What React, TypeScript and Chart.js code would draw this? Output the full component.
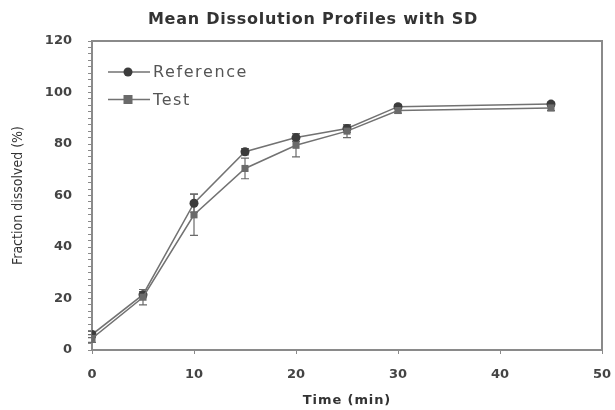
import React, { useEffect, useRef } from "react";
import { Chart, registerables } from "chart.js";

Chart.register(...registerables);

const chartTitle = "Mean Dissolution Profiles with SD";
const xTitle = "Time (min)";
const yTitle = "Fraction dissolved (%)";
const seriesNames = ["Reference", "Test"];

const times = [0, 5, 10, 15, 20, 25, 30, 45];
const refMean = [6, 21.5, 57, 77, 82.5, 86, 94.5, 95.5];
const refSD = [1.2, 1.2, 3.5, 1.2, 1.5, 1.5, 0.8, 0.8];
const testMean = [4.5, 20.5, 52.5, 70.5, 79.5, 85, 93, 94];
const testSD = [1.5, 3, 8, 4, 4.5, 2.5, 1, 1];

const xMin = 0;
const xMax = 50;
const xStep = 10;
const yMin = 0;
const yMax = 120;
const yMajor = 20;
const yMinor = 2.5;

const AXIS = "#8a8a8a";
const TEXT = "#444";
const LINE = "#727272";

const means = [refMean, testMean];
const sds = [refSD, testSD];
const markerColors = ["#3c3c3c", "#6a6a6a"];
const markerStyles = ["circle", "rect"];

const errorBarPlugin = {
  id: "errorBars",
  beforeDatasetsDraw(chart: any) {
    const { ctx, scales } = chart;
    const xs = scales.x;
    const ys = scales.y;
    ctx.save();
    ctx.strokeStyle = "#6a6a6a";
    ctx.lineWidth = 1.2;
    means.forEach((m, si) => {
      m.forEach((v, i) => {
        const px = xs.getPixelForValue(times[i]);
        const top = ys.getPixelForValue(v + sds[si][i]);
        const bot = ys.getPixelForValue(v - sds[si][i]);
        ctx.beginPath();
        ctx.moveTo(px, top);
        ctx.lineTo(px, bot);
        ctx.moveTo(px - 4, top);
        ctx.lineTo(px + 4, top);
        ctx.moveTo(px - 4, bot);
        ctx.lineTo(px + 4, bot);
        ctx.stroke();
      });
    });
    ctx.restore();
  },
};

const decorPlugin = {
  id: "decor",
  afterDraw(chart: any) {
    const { ctx, chartArea } = chart;
    const { left, right, top, bottom } = chartArea;
    ctx.save();
    // frame top & right
    ctx.strokeStyle = AXIS;
    ctx.lineWidth = 2;
    ctx.beginPath();
    ctx.moveTo(left, top);
    ctx.lineTo(right, top);
    ctx.lineTo(right, bottom);
    ctx.stroke();

    // title
    ctx.fillStyle = "#333";
    ctx.textAlign = "center";
    ctx.textBaseline = "middle";
    ctx.font = "bold 16px 'DejaVu Sans'";
    (ctx as any).letterSpacing = "0.75px";
    ctx.fillText(chartTitle, 313, 20);

    // x title
    ctx.font = "bold 13px 'DejaVu Sans'";
    (ctx as any).letterSpacing = "0.9px";
    ctx.fillText(xTitle, (left + right) / 2, 401);

    // y title
    ctx.save();
    ctx.translate(18, (top + bottom) / 2);
    ctx.rotate(-Math.PI / 2);
    ctx.fillStyle = "#333";
    ctx.font = "14px 'DejaVu Sans Condensed', 'DejaVu Sans'";
    (ctx as any).letterSpacing = "0px";
    ctx.fillText(yTitle, 0, 0);
    ctx.restore();

    // legend
    ctx.font = "16px 'DejaVu Sans'";
    (ctx as any).letterSpacing = "1.6px";
    ctx.textAlign = "left";
    seriesNames.forEach((name, i) => {
      const y = top + 31 + i * 27.5;
      const x0 = left + 16;
      const x1 = left + 58;
      const mx = left + 36;
      ctx.strokeStyle = LINE;
      ctx.lineWidth = 1.5;
      ctx.beginPath();
      ctx.moveTo(x0, y);
      ctx.lineTo(x1, y);
      ctx.stroke();
      ctx.fillStyle = markerColors[i];
      if (markerStyles[i] === "circle") {
        ctx.beginPath();
        ctx.arc(mx, y, 4.5, 0, Math.PI * 2);
        ctx.fill();
      } else {
        ctx.fillRect(mx - 4.5, y - 4.5, 9, 9);
      }
      ctx.fillStyle = "#555";
      ctx.fillText(name, x1 + 3, y + 1);
    });
    ctx.restore();
  },
};

export default function App() {
  const ref = useRef<HTMLCanvasElement | null>(null);
  useEffect(() => {
    if (!ref.current) return;
    const chart = new Chart(ref.current, {
      type: "line",
      data: {
        datasets: seriesNames.map((name, si) => ({
          label: name,
          data: times.map((t, i) => ({ x: t, y: means[si][i] })),
          borderColor: LINE,
          borderWidth: 1.5,
          backgroundColor: markerColors[si],
          pointBackgroundColor: markerColors[si],
          pointBorderColor: markerColors[si],
          pointStyle: markerStyles[si] as any,
          pointRadius: si === 0 ? 4.5 : 5,
          pointBorderWidth: 0,
          tension: 0,
          fill: false,
          order: 1 - si,
        })),
      },
      options: {
        animation: false,
        responsive: false,
        maintainAspectRatio: false,
        layout: { padding: { top: 41, right: 13, left: 0, bottom: 0 } },
        plugins: {
          legend: { display: false },
          title: { display: false },
          tooltip: { enabled: false },
        },
        scales: {
          x: {
            type: "linear",
            min: xMin,
            max: xMax,
            afterFit: (s: any) => {
              s.height = 60;
              s.paddingLeft = 0;
              s.paddingRight = 0;
            },
            border: { color: AXIS, width: 2 },
            grid: { drawOnChartArea: false, drawTicks: true, tickLength: 4, color: AXIS },
            ticks: {
              stepSize: xStep,
              color: TEXT,
              padding: 13,
              font: { family: "'DejaVu Sans'", size: 13, weight: "bold" },
              maxRotation: 0,
            },
          },
          y: {
            type: "linear",
            min: yMin,
            max: yMax,
            afterFit: (s: any) => {
              s.width = 92;
              s.paddingTop = 0;
              s.paddingBottom = 0;
            },
            border: { color: AXIS, width: 2 },
            grid: { drawOnChartArea: false, drawTicks: true, tickLength: 4, color: AXIS },
            ticks: {
              stepSize: yMinor,
              autoSkip: false,
              color: TEXT,
              padding: 16,
              font: { family: "'DejaVu Sans'", size: 13, weight: "bold" },
              callback: (v: any) => (Number(v) % yMajor === 0 ? String(v) : ""),
            },
          },
        },
      },
      plugins: [errorBarPlugin, decorPlugin],
    } as any);
    return () => chart.destroy();
  }, []);
  return (
    <div style={{ position: "absolute", left: 0, top: 0, width: 615, height: 410, background: "#fff" }}>
      <canvas ref={ref} width={615} height={410} style={{ width: 615, height: 410 }} />
    </div>
  );
}
